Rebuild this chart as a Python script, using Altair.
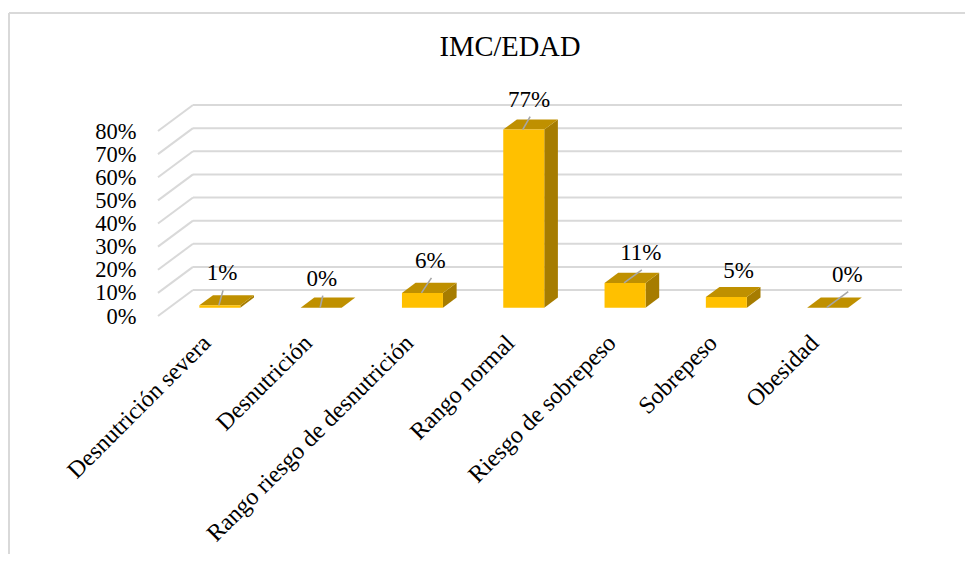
import altair as alt
import pandas as pd

title = "IMC/EDAD"
categories = ["Desnutrición severa", "Desnutrición", "Rango riesgo de desnutrición",
              "Rango normal", "Riesgo de sobrepeso", "Sobrepeso", "Obesidad"]
values = [1, 0, 6.4, 77, 10.7, 4.6, 0]
y_ticks = [0, 10, 20, 30, 40, 50, 60, 70, 80]

# hand placed data label offsets from the bar top (pixels) and whether a leader is drawn
label_shift_x = [2.2, 0.6, 8, 5.4, 15.8, 12.2, 19.6]
label_shift_y = [-32, -29, -32, -30, -30, -26, -33]
has_leader = [True, True, True, True, True, False, True]

# layout
PX_PER_CAT = 101.3
PX_PER_PCT = 2.3125
DEPTH_X = 35
DEPTH_Y = 26
WIDTH = 744
HEIGHT = 211
BAR_W = 41 / PX_PER_CAT
D0, D1 = 0.32, 0.71
dxc = DEPTH_X / PX_PER_CAT
dyv = DEPTH_Y / PX_PER_PCT
SERIF = "Liberation Serif"
GRID = "#D9D9D9"

xs = alt.Scale(domain=[0, WIDTH / PX_PER_CAT], range=[0, WIDTH], nice=False, zero=False)
ys = alt.Scale(domain=[0, HEIGHT / PX_PER_PCT], range=[HEIGHT, 0], nice=False, zero=False)
x_axis = alt.Axis(values=[i + 0.5 for i in range(len(categories))],
                  labelExpr="%s[floor(datum.value)]" % repr(categories),
                  labelAngle=-45, labelAlign="right", labelBaseline="middle",
                  labelFont=SERIF, labelFontSize=24, labelColor="#000000",
                  labelPadding=23, labelOffset=-2, labelLimit=500, domain=False, ticks=False,
                  grid=False, labelOverlap=False, labelBound=False, labelFlush=False, title=None)
y_axis = alt.Axis(values=y_ticks, labelExpr="datum.value + '%'",
                  labelFont=SERIF, labelFontSize=22.5, labelColor="#000000",
                  labelPadding=22, domain=False, ticks=False, grid=False,
                  labelOverlap=False, labelBound=False, labelFlush=False, title=None)
X = lambda f: alt.X(f, type="quantitative", scale=xs, axis=x_axis)
Y = lambda f: alt.Y(f, type="quantitative", scale=ys, axis=y_axis)

# walls
wall = []
for t in y_ticks:
    wall.append({"t": t, "a": "side", "x": 0, "y": t})
    wall.append({"t": t, "a": "side", "x": dxc, "y": t + dyv})
    wall.append({"t": t, "a": "back", "x": dxc, "y": t + dyv})
    wall.append({"t": t, "a": "back", "x": WIDTH / PX_PER_CAT, "y": t + dyv})
wall_df = pd.DataFrame(wall)
walls = alt.Chart(wall_df).mark_line(color=GRID, strokeWidth=2, clip=False).encode(
    x=X("x"), y=Y("y"), detail="d:N",
).transform_calculate(d="datum.t + datum.a")

# bars
front, top, side = [], [], []
labels, leaders = [], []
for i, v in enumerate(values):
    xl = i + 0.5 - BAR_W / 2
    xr = i + 0.5 + BAR_W / 2
    front.append({"x": xl + D0 * dxc, "x2": xr + D0 * dxc, "y": D0 * dyv, "y2": v + D0 * dyv})
    for d in (D0, D1):
        top.append({"i": i, "x": xl + d * dxc, "x2": xr + d * dxc, "y": v + d * dyv})
        side.append({"i": i, "x": xr + d * dxc, "y": d * dyv, "y2": v + d * dyv})
    cx = i + 0.5 + D0 * dxc
    cy = v + D0 * dyv
    lx = cx + label_shift_x[i] / PX_PER_CAT
    ly = cy - label_shift_y[i] / PX_PER_PCT
    labels.append({"x": lx, "y": ly, "t": f"{v:.0f}%"})
    if has_leader[i]:
        leaders.append({"i": i, "x": cx - 1 / PX_PER_CAT, "y": cy})
        leaders.append({"i": i, "x": lx + 1 / PX_PER_CAT, "y": ly - 17 / PX_PER_PCT})

bar_front = alt.Chart(pd.DataFrame(front)).mark_rect(color="#FFC000").encode(
    x=X("x"), x2="x2:Q", y=Y("y"), y2="y2:Q")
bar_top = alt.Chart(pd.DataFrame(top)).mark_area(color="#BF9000", orient="horizontal").encode(
    y=Y("y"), x=X("x"), x2="x2:Q", detail="i:N")
bar_side = alt.Chart(pd.DataFrame(side)).mark_area(color="#A67C00", orient="vertical").encode(
    x=X("x"), y=Y("y"), y2="y2:Q", detail="i:N")
leader = alt.Chart(pd.DataFrame(leaders)).mark_line(color="#A6A6A6", strokeWidth=1.6).encode(
    x=X("x"), y=Y("y"), detail="i:N")
text = alt.Chart(pd.DataFrame(labels)).mark_text(
    font=SERIF, fontSize=23, color="#000000", baseline="middle", align="center").encode(
    x=X("x"), y=Y("y"), text="t:N")

# chart frame and title (outside the plot area, in pixels relative to it)
frame_top = alt.Chart(pd.DataFrame({"a": [0]})).mark_rule(color=GRID, strokeWidth=2, clip=False).encode(
    x=alt.value(-149), x2=alt.value(807), y=alt.value(-92))
frame_left = alt.Chart(pd.DataFrame({"a": [0]})).mark_rule(color=GRID, strokeWidth=2, clip=False).encode(
    x=alt.value(-149), y=alt.value(-92), y2=alt.value(449))
ttl = alt.Chart(pd.DataFrame({"t": [title]})).mark_text(
    font=SERIF, fontSize=28.5, color="#000000", baseline="middle", align="center").encode(
    x=alt.value(352), y=alt.value(-58), text="t:N")

chart = alt.layer(frame_top, frame_left, walls, bar_side, bar_top, bar_front, leader, text, ttl).properties(
    width=WIDTH, height=HEIGHT,
    padding={"top": 4, "left": 0, "right": 0, "bottom": 0}, background="white"
).configure_view(stroke=None)

chart.save("out.html", embed_options={"renderer": "svg", "actions": False})
